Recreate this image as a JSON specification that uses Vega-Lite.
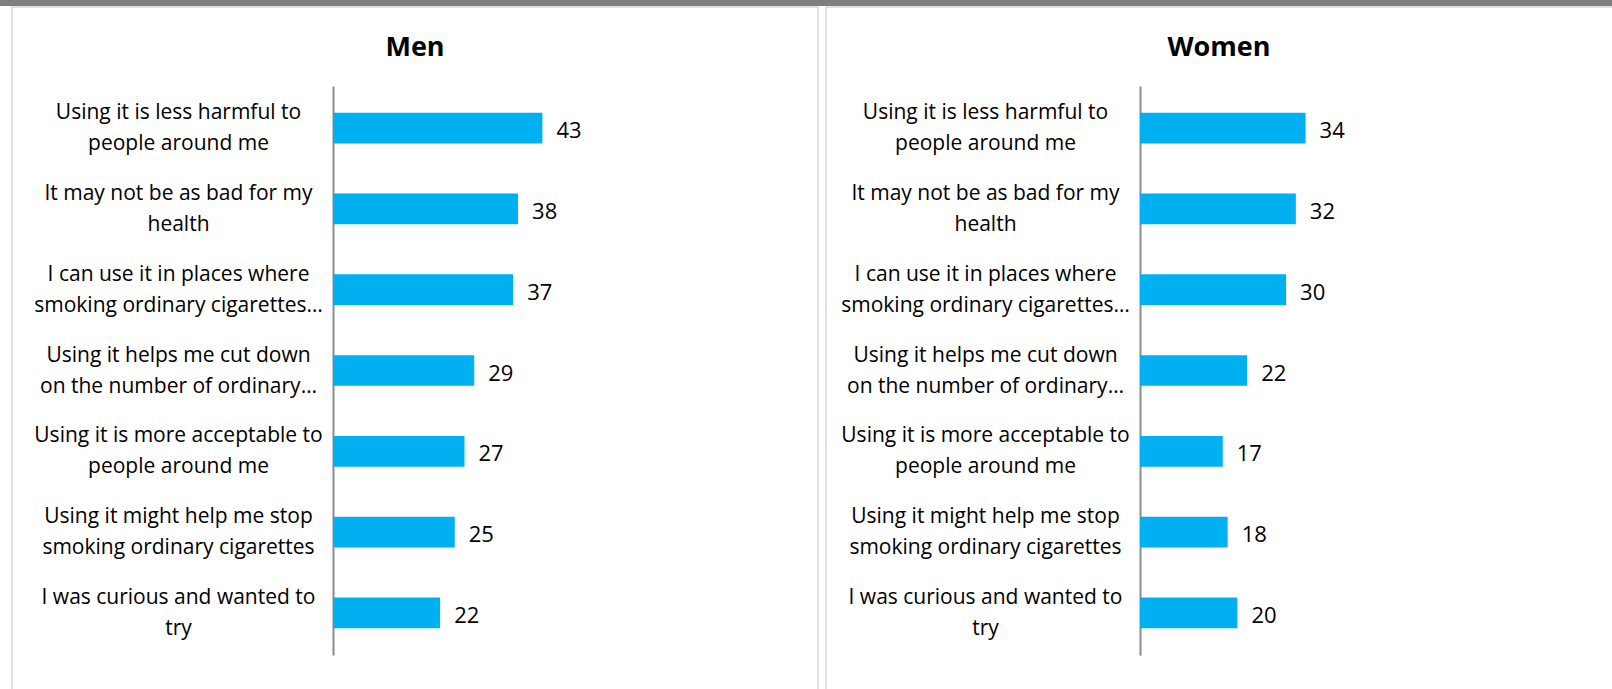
{
  "$schema": "https://vega.github.io/schema/vega-lite/v6.json",
  "padding": 0,
  "background": "white",
  "config": {
    "font": "Open Sans",
    "view": {"stroke": null},
    "axis": {"grid": false}
  },
  "datasets": {
    "survey": [
      {"gender": "Men", "reason": "Using it is less harmful to\npeople around me", "value": 43},
      {"gender": "Men", "reason": "It may not be as bad for my\nhealth", "value": 38},
      {"gender": "Men", "reason": "I can use it in places where\nsmoking ordinary cigarettes…", "value": 37},
      {"gender": "Men", "reason": "Using it helps me cut down\non the number of ordinary…", "value": 29},
      {"gender": "Men", "reason": "Using it is more acceptable to\npeople around me", "value": 27},
      {"gender": "Men", "reason": "Using it might help me stop\nsmoking ordinary cigarettes", "value": 25},
      {"gender": "Men", "reason": "I was curious and wanted to\ntry", "value": 22},
      {"gender": "Women", "reason": "Using it is less harmful to\npeople around me", "value": 34},
      {"gender": "Women", "reason": "It may not be as bad for my\nhealth", "value": 32},
      {"gender": "Women", "reason": "I can use it in places where\nsmoking ordinary cigarettes…", "value": 30},
      {"gender": "Women", "reason": "Using it helps me cut down\non the number of ordinary…", "value": 22},
      {"gender": "Women", "reason": "Using it is more acceptable to\npeople around me", "value": 17},
      {"gender": "Women", "reason": "Using it might help me stop\nsmoking ordinary cigarettes", "value": 18},
      {"gender": "Women", "reason": "I was curious and wanted to\ntry", "value": 20}
    ]
  },
  "spacing": 0,
  "vconcat": [
    {
      "data": {"values": []},
      "width": 1612,
      "height": 6,
      "mark": {"type": "rect"},
      "encoding": {},
      "view": {"fill": "#7f7f7f", "stroke": null}
    },
    {
      "spacing": 6,
      "resolve": {"scale": {"x": "independent", "y": "independent"}},
      "hconcat": [
        {
          "data": {"values": []},
          "width": 5,
          "height": 10,
          "mark": {"type": "rect"},
          "encoding": {},
          "view": {"stroke": null}
        },
        {
          "data": {"name": "survey"},
          "transform": [{"filter": "datum.gender === 'Men'"}],
          "width": 806,
          "height": 700,
          "view": {"stroke": "#e0e0e0", "strokeWidth": 2, "fill": "white"},
          "title": {"text": "Men", "fontSize": 27, "fontWeight": "bold", "color": "#000000", "offset": -76, "baseline": "alphabetic", "anchor": "middle", "frame": "group"},
          "encoding": {
            "y": {
              "field": "reason", "type": "nominal", "sort": null,
              "scale": {"range": [79, 648], "paddingInner": 0.62, "paddingOuter": 0.33},
              "axis": {"title": null, "orient": "left", "offset": -321, "domainColor": "#8c8c8c", "domainWidth": 2, "ticks": false, "tickSize": 0, "labelAlign": "center", "labelBaseline": "middle", "labelPadding": 155, "labelOffset": -15, "labelFontSize": 21, "labelColor": "#000000", "labelLineHeight": 31, "labelLimit": 0, "labelExpr": "split(datum.label, '\\n')"}
            },
            "x": {"field": "value", "type": "quantitative", "scale": {"domain": [0, 100], "range": [321, 808]}, "axis": null}
          },
          "layer": [
            {"mark": {"type": "bar", "color": "#00B0F0"}},
            {"mark": {"type": "text", "align": "left", "baseline": "middle", "dx": 14, "dy": 3, "fontSize": 22, "color": "#000000"}, "encoding": {"text": {"field": "value", "type": "quantitative"}}}
          ]
        },
        {
          "data": {"name": "survey"},
          "transform": [{"filter": "datum.gender === 'Women'"}],
          "width": 806,
          "height": 700,
          "view": {"stroke": "#e0e0e0", "strokeWidth": 2, "fill": "white"},
          "title": {"text": "Women", "fontSize": 27, "fontWeight": "bold", "color": "#000000", "offset": -76, "baseline": "alphabetic", "anchor": "middle", "frame": "group", "dx": -10},
          "encoding": {
            "y": {
              "field": "reason", "type": "nominal", "sort": null,
              "scale": {"range": [79, 648], "paddingInner": 0.62, "paddingOuter": 0.33},
              "axis": {"title": null, "orient": "left", "offset": -314, "domainColor": "#8c8c8c", "domainWidth": 2, "ticks": false, "tickSize": 0, "labelAlign": "center", "labelBaseline": "middle", "labelPadding": 155, "labelOffset": -15, "labelFontSize": 21, "labelColor": "#000000", "labelLineHeight": 31, "labelLimit": 0, "labelExpr": "split(datum.label, '\\n')"}
            },
            "x": {"field": "value", "type": "quantitative", "scale": {"domain": [0, 100], "range": [314, 801]}, "axis": null}
          },
          "layer": [
            {"mark": {"type": "bar", "color": "#00B0F0"}},
            {"mark": {"type": "text", "align": "left", "baseline": "middle", "dx": 14, "dy": 3, "fontSize": 22, "color": "#000000"}, "encoding": {"text": {"field": "value", "type": "quantitative"}}}
          ]
        }
      ]
    }
  ]
}
